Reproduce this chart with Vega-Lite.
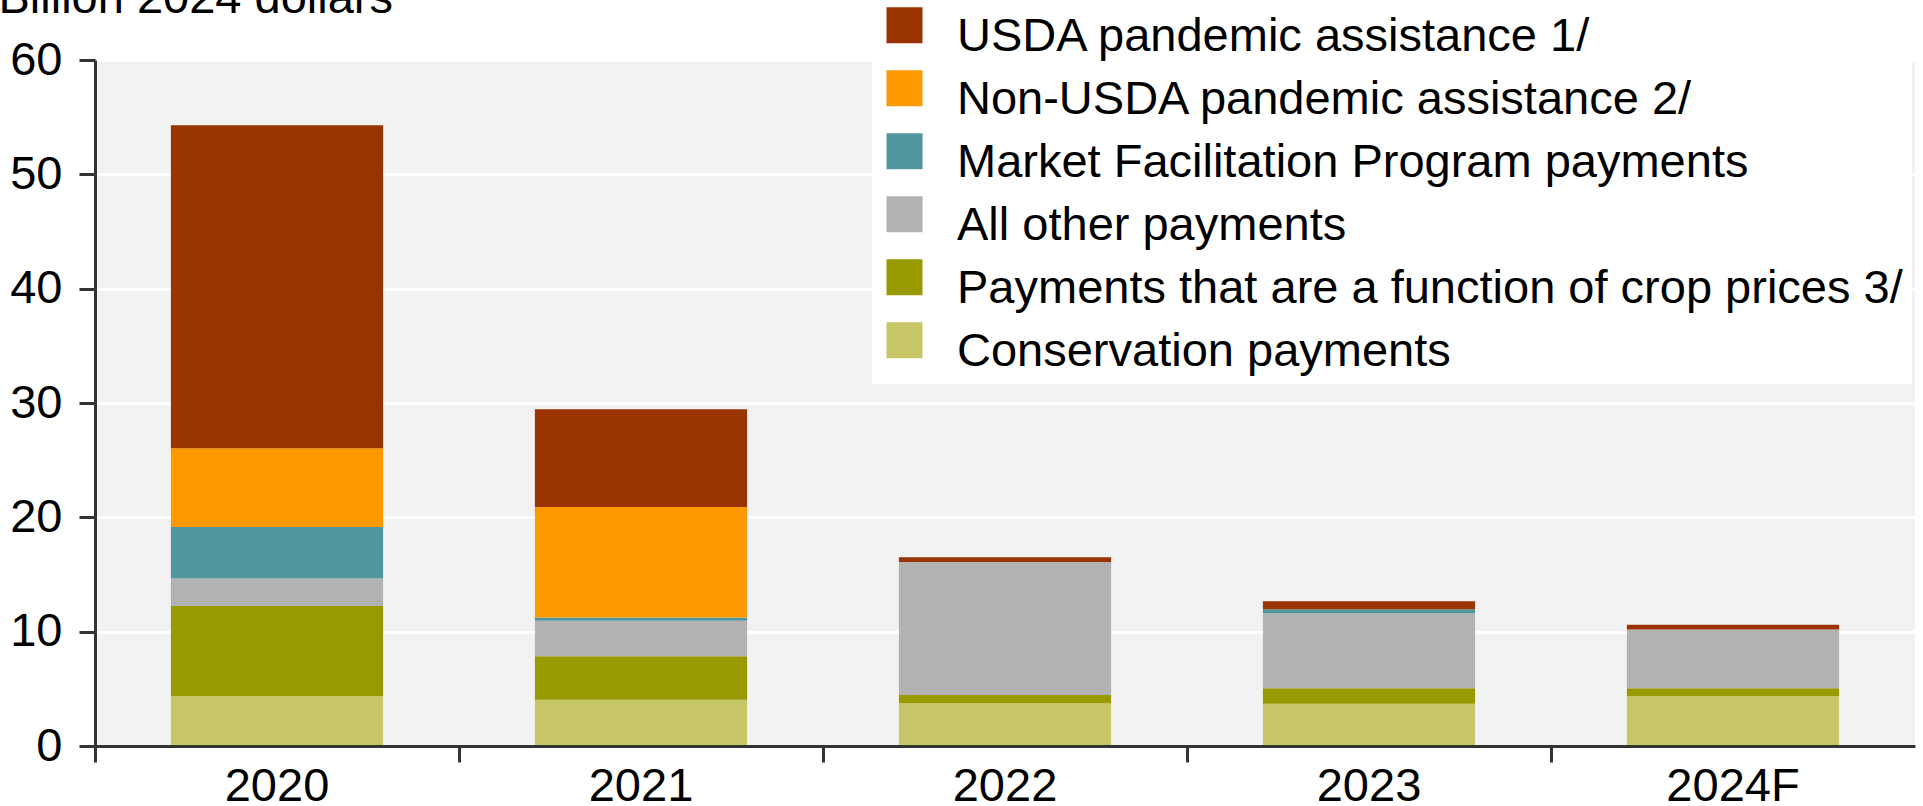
{
  "$schema": "https://vega.github.io/schema/vega-lite/v6.json",
  "width": 1820,
  "height": 686,
  "autosize": "none",
  "padding": {"left": 95, "top": 60, "right": 8, "bottom": 60},
  "background": "white",
  "config": {"font": "Liberation Sans", "view": {"fill": "#f2f2f2", "stroke": null}},
  "data": {"values": [
    {"year": "2020", "series": "Conservation payments", "stack": 1, "value": 4.35},
    {"year": "2020", "series": "Payments that are a function of crop prices 3/", "stack": 2, "value": 7.9},
    {"year": "2020", "series": "All other payments", "stack": 3, "value": 2.4},
    {"year": "2020", "series": "Market Facilitation Program payments", "stack": 4, "value": 4.5},
    {"year": "2020", "series": "Non-USDA pandemic assistance 2/", "stack": 5, "value": 6.9},
    {"year": "2020", "series": "USDA pandemic assistance 1/", "stack": 6, "value": 28.25},
    {"year": "2021", "series": "Conservation payments", "stack": 1, "value": 4.05},
    {"year": "2021", "series": "Payments that are a function of crop prices 3/", "stack": 2, "value": 3.8},
    {"year": "2021", "series": "All other payments", "stack": 3, "value": 3.1},
    {"year": "2021", "series": "Market Facilitation Program payments", "stack": 4, "value": 0.3},
    {"year": "2021", "series": "Non-USDA pandemic assistance 2/", "stack": 5, "value": 9.65},
    {"year": "2021", "series": "USDA pandemic assistance 1/", "stack": 6, "value": 8.55},
    {"year": "2022", "series": "Conservation payments", "stack": 1, "value": 3.75},
    {"year": "2022", "series": "Payments that are a function of crop prices 3/", "stack": 2, "value": 0.7},
    {"year": "2022", "series": "All other payments", "stack": 3, "value": 11.65},
    {"year": "2022", "series": "USDA pandemic assistance 1/", "stack": 6, "value": 0.4},
    {"year": "2023", "series": "Conservation payments", "stack": 1, "value": 3.7},
    {"year": "2023", "series": "Payments that are a function of crop prices 3/", "stack": 2, "value": 1.35},
    {"year": "2023", "series": "All other payments", "stack": 3, "value": 6.55},
    {"year": "2023", "series": "Market Facilitation Program payments", "stack": 4, "value": 0.35},
    {"year": "2023", "series": "USDA pandemic assistance 1/", "stack": 6, "value": 0.7},
    {"year": "2024F", "series": "Conservation payments", "stack": 1, "value": 4.35},
    {"year": "2024F", "series": "Payments that are a function of crop prices 3/", "stack": 2, "value": 0.7},
    {"year": "2024F", "series": "All other payments", "stack": 3, "value": 5.15},
    {"year": "2024F", "series": "USDA pandemic assistance 1/", "stack": 6, "value": 0.4}
  ]},
  "mark": {"type": "bar", "width": {"band": 0.583}},
  "encoding": {
    "x": {
      "field": "year", "type": "nominal", "sort": null,
      "scale": {"paddingInner": 0, "paddingOuter": 0},
      "axis": {
        "title": null, "bandPosition": 0, "labelAngle": 0,
        "tickSize": 16, "tickWidth": 3, "tickColor": "#333333",
        "domainColor": "#333333", "domainWidth": 3,
        "labelFontSize": 47, "labelColor": "black", "labelBaseline": "alphabetic",
        "labelPadding": 38, "grid": false, "zindex": 1
      }
    },
    "y": {
      "field": "value", "type": "quantitative", "stack": "zero",
      "scale": {"domain": [0, 60], "nice": false},
      "axis": {
        "values": [0, 10, 20, 30, 40, 50, 60],
        "grid": true, "gridColor": "white", "gridWidth": 3,
        "domainColor": "#333333", "domainWidth": 3,
        "tickSize": 16, "tickWidth": 3, "tickColor": "#333333",
        "labelFontSize": 47, "labelColor": "black", "labelPadding": 17,
        "title": "Billion 2024 dollars", "titleAngle": 0, "titleX": -97, "titleY": -48,
        "titleAlign": "left", "titleBaseline": "alphabetic", "titleFontSize": 47,
        "titleFontWeight": "normal", "titleColor": "black"
      }
    },
    "color": {
      "field": "series", "type": "nominal",
      "scale": {
        "domain": ["USDA pandemic assistance 1/", "Non-USDA pandemic assistance 2/", "Market Facilitation Program payments", "All other payments", "Payments that are a function of crop prices 3/", "Conservation payments"],
        "range": ["#993300", "#ff9900", "#52969f", "#b2b2b2", "#999900", "#c6c667"]
      },
      "legend": {
        "orient": "none", "legendX": 777, "legendY": -56,
        "title": null, "symbolType": "M-1,-1.63H1V0.37H-1Z", "symbolSize": 1296, "symbolStrokeWidth": 0,
        "labelFontSize": 47, "labelColor": "black", "labelLimit": 2000, "labelOffset": 29,
        "rowPadding": 10, "padding": 9,
        "fillColor": "white", "strokeColor": null
      }
    },
    "order": {"field": "stack", "type": "quantitative", "sort": "ascending"}
  }
}
